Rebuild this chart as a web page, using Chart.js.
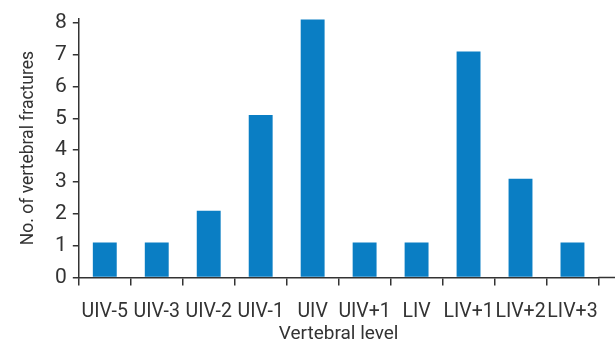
<!DOCTYPE html>
<html>
<head>
<meta charset="utf-8">
<script src="https://cdn.jsdelivr.net/npm/chart.js@4/dist/chart.umd.min.js"></script>
<style>
  html, body { margin: 0; padding: 0; background: #fff; }
  #wrap { width: 615px; height: 344px; }
</style>
</head>
<body>
<div id="wrap"><canvas id="fracChart"></canvas></div>
<script>
// Data
const LEVELS = ["UIV-5", "UIV-3", "UIV-2", "UIV-1", "UIV", "UIV+1", "LIV", "LIV+1", "LIV+2", "LIV+3"];
const FRACTURES = [1.1, 1.1, 2.1, 5.1, 8.1, 1.1, 1.1, 7.1, 3.1, 1.1];
const Y_TICKS = [0, 1, 2, 3, 4, 5, 6, 7, 8];

const FONT = "Roboto, sans-serif";
const INK = "#333333";

// the x axis line runs on a bit past the last category
const axisTail = {
  id: "axisTail",
  afterDraw(chart) {
    const { ctx, chartArea } = chart;
    ctx.save();
    ctx.strokeStyle = INK;
    ctx.lineWidth = 1.5;
    ctx.beginPath();
    ctx.moveTo(chartArea.right, chartArea.bottom);
    ctx.lineTo(chart.width, chartArea.bottom);
    ctx.stroke();
    ctx.restore();
  }
};

new Chart(document.getElementById("fracChart").getContext("2d"), {
  type: "bar",
  data: {
    labels: LEVELS,
    datasets: [{
      data: FRACTURES,
      backgroundColor: "#0a7ec4",
      barPercentage: 0.46,
      categoryPercentage: 1
    }]
  },
  options: {
    responsive: true,
    maintainAspectRatio: false,
    animation: false,
    layout: { padding: { top: 17, right: 8, left: 18, bottom: -5 } },
    plugins: { legend: { display: false }, tooltip: { enabled: false } },
    scales: {
      x: {
        offset: true,
        grid: { display: true, drawOnChartArea: false, offset: true, tickLength: 8, color: INK, lineWidth: 1.5 },
        border: { color: INK, width: 1.5 },
        ticks: { color: INK, font: { family: FONT, size: 19.5, lineHeight: 1 }, padding: 17, maxRotation: 0, autoSkip: false },
        title: { display: true, text: "Vertebral level", color: INK, font: { family: FONT, size: 19, lineHeight: 1 }, padding: { top: -14, bottom: 5 } }
      },
      y: {
        min: 0,
        max: 8.13,
        afterBuildTicks: axis => { axis.ticks = Y_TICKS.map(v => ({ value: v })); },
        grid: { display: true, drawOnChartArea: false, tickLength: 6, color: INK, lineWidth: 1.5 },
        border: { color: INK, width: 1.5 },
        ticks: { color: INK, font: { family: FONT, size: 21 }, padding: 6 },
        title: { display: true, text: "No. of vertebral fractures", color: INK, font: { family: FONT, size: 17.5 }, padding: { top: 0, bottom: 10 } }
      }
    }
  },
  plugins: [axisTail]
});
</script>
</body>
</html>
